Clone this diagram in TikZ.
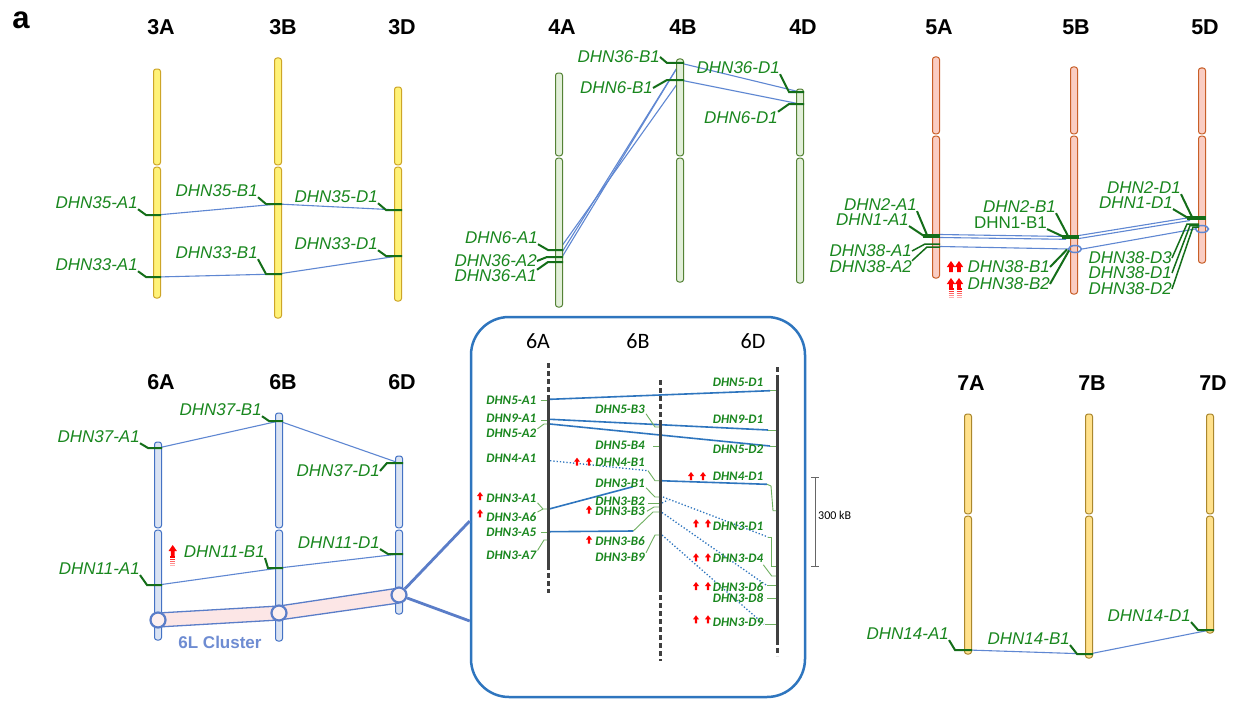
\documentclass[tikz,border=0pt]{standalone}
\usepackage{fontspec}
\setmainfont{Liberation Sans}
\newfontfamily\calfont{Carlito}
\usetikzlibrary{shapes.geometric}
\definecolor{labgreen}{RGB}{25,135,30}
\definecolor{mkgreen}{RGB}{20,110,25}
\definecolor{thingreen}{RGB}{110,175,95}
\definecolor{linkblue}{RGB}{95,135,210}
\definecolor{insetblue}{RGB}{46,117,190}
\definecolor{chrgrey}{RGB}{64,64,64}
\definecolor{clusterblue}{RGB}{90,125,200}
\definecolor{bandpink}{RGB}{252,230,230}
\definecolor{ftxt}{RGB}{110,140,210}
\definecolor{f3}{RGB}{255,242,120}\definecolor{d3}{RGB}{205,165,40}
\definecolor{f4}{RGB}{226,239,217}\definecolor{d4}{RGB}{84,130,53}
\definecolor{f5}{RGB}{250,205,195}\definecolor{d5}{RGB}{200,95,40}
\definecolor{f6}{RGB}{218,227,243}\definecolor{d6}{RGB}{68,114,196}
\definecolor{f7}{RGB}{255,225,140}\definecolor{d7}{RGB}{170,135,45}
\newcommand\chrom[5]{%
  \draw[#5,rounded corners=2.5pt] (#1-3.5,#2) rectangle (#1+3.5,#3-1.2);
  \draw[#5,rounded corners=2.5pt] (#1-3.5,#3+1.2) rectangle (#1+3.5,#4);}
\newcommand\bigup[2]{%
  \fill[red] (#1,#2) -- (#1+4.2,#2+6) -- (#1+1.8,#2+6) -- (#1+1.8,#2+11) -- (#1-1.8,#2+11) -- (#1-1.8,#2+6) -- (#1-4.2,#2+6) -- cycle;}
\newcommand\tailstripes[2]{%
  \foreach \k/\o in {0/1,1/0.8,2/0.6,3/0.45,4/0.3}{\draw[red,opacity=\o,line width=1.2pt] (#1-2.5,#2+2.2*\k) -- (#1+2.5,#2+2.2*\k);}}
\newcommand\smallup[2]{%
  \fill[red] (#1,#2-4) -- (#1+3,#2) -- (#1+1.2,#2) -- (#1+1.2,#2+4) -- (#1-1.2,#2+4) -- (#1-1.2,#2) -- (#1-3,#2) -- cycle;}
\begin{document}
\begin{tikzpicture}[x=1pt,y=-1pt,
  lab/.style={font=\fontsize{17}{19}\selectfont\itshape, text=labgreen, inner sep=0pt, anchor=east},
  ilab/.style={font=\calfont\fontsize{13}{14}\selectfont\bfseries\itshape, text=labgreen, inner sep=0pt, anchor=east},
  hdr/.style={font=\fontsize{21.5}{24}\selectfont\bfseries, inner sep=0pt},
  ihdr/.style={font=\calfont\fontsize{22}{24}\selectfont, inner sep=0pt},
  lead/.style={draw=mkgreen, line width=2pt},
  thinlead/.style={draw=mkgreen, line width=1.5pt},
  bar/.style={draw=mkgreen, line width=4pt},
  ilead/.style={draw=thingreen, line width=0.9pt},
  link/.style={draw=linkblue, line width=1.1pt},
  ilink/.style={draw=insetblue, line width=1.6pt},
  idot/.style={draw=insetblue, line width=1.3pt, dotted},
  ichr/.style={draw=chrgrey, line width=3pt},
  idash/.style={draw=chrgrey, line width=3pt, dash pattern=on 5pt off 3pt},
  c3/.style={draw=d3, fill=f3, line width=1pt},
  c4/.style={draw=d4, fill=f4, line width=1pt},
  c5/.style={draw=d5, fill=f5, line width=1pt},
  c6/.style={draw=d6, fill=f6, line width=1pt},
  c7/.style={draw=d7, fill=f7, line width=1pt},
  ell/.style={ellipse, draw=linkblue, line width=1.5pt, minimum width=13pt, minimum height=7pt, inner sep=0pt},
  circ/.style={circle, draw=clusterblue, line width=2.2pt, fill=bandpink!60!white, minimum size=15pt, inner sep=0pt},
  zoomline/.style={draw=clusterblue, line width=2.8pt}]
\useasboundingbox (0,0) rectangle (1236,701);
\fill[white] (0,0) rectangle (1236,701);
\node[font=\fontsize{31}{33}\selectfont\bfseries, inner sep=0pt] (pa) at (21,20) {a};

% ================= group 3 =================
\node[hdr] (h3A) at (161,27) {3A};
\node[hdr] (h3B) at (283,27) {3B};
\node[hdr] (h3D) at (402,27) {3D};
\coordinate (m35A) at (157,215); \coordinate (m35B) at (278,204); \coordinate (m35D) at (398,210);
\coordinate (m33A) at (157,277); \coordinate (m33B) at (278,274); \coordinate (m33D) at (398,256);
\draw[link] (m35A) -- (m35B) -- (m35D);
\draw[link] (m33A) -- (m33B) -- (m33D);
\chrom{157}{69}{166}{298}{c3}
\chrom{278}{58}{166}{318}{c3}
\chrom{398}{87}{166}{301}{c3}
\node[lab] (L35A) at (138,203) {DHN35-A1};
\draw[lead] (L35A.south east) -- (146,215) -- (161,215);
\node[lab] (L35B) at (258,191) {DHN35-B1};
\draw[lead] (L35B.south east) -- (266,204) -- (282,204);
\node[lab] (L35D) at (378,197) {DHN35-D1};
\draw[lead] (L35D.south east) -- (386,210) -- (402,210);
\node[lab] (L33A) at (138,265) {DHN33-A1};
\draw[lead] (L33A.south east) -- (146,277) -- (161,277);
\node[lab] (L33B) at (258,253) {DHN33-B1};
\draw[lead] (L33B.south east) -- (266,274) -- (282,274);
\node[lab] (L33D) at (378,244) {DHN33-D1};
\draw[lead] (L33D.south east) -- (386,256) -- (402,256);

% ================= group 4 =================
\node[hdr] (h4A) at (562,27) {4A};
\node[hdr] (h4B) at (683,27) {4B};
\node[hdr] (h4D) at (803,27) {4D};
\coordinate (m6A) at (559,250); \coordinate (m36A2) at (559,257); \coordinate (m36A1) at (559,262);
\coordinate (m36B) at (680,63); \coordinate (m6B) at (680,80);
\coordinate (m36D) at (800,92); \coordinate (m6D) at (800,104);
\draw[link] (m6A) -- (m6B) -- (m6D);
\draw[link] (m36A2) -- (m36B) -- (m36D);
\draw[link] (m36A1) -- (m36B);
\chrom{559}{73}{157}{307}{c4}
\chrom{680}{59}{157}{282}{c4}
\chrom{800}{89}{157}{283}{c4}
\node[lab] (L36B) at (660,57) {DHN36-B1};
\draw[lead] (L36B.east) -- (667,63) -- (684,63);
\node[lab] (L6B) at (653,88) {DHN6-B1};
\draw[lead] (L6B.east) -- (667,80) -- (684,80);
\node[lab] (L36D) at (780,68) {DHN36-D1};
\draw[lead] (L36D.south east) -- (789,92) -- (804,92);
\node[lab] (L6D) at (778,118) {DHN6-D1};
\draw[lead] (L6D.north east) -- (789,104) -- (804,104);
\node[lab] (L6A) at (538,238) {DHN6-A1};
\draw[lead] (L6A.south east) -- (548,250) -- (563,250);
\node[lab] (L36A2) at (537,261) {DHN36-A2};
\draw[lead] (L36A2.east) -- (547,257) -- (563,257);
\node[lab] (L36A1) at (537,276) {DHN36-A1};
\draw[lead] (L36A1.north east) -- (548,262) -- (563,262);

% ================= group 5 =================
\node[hdr] (h5A) at (939,27) {5A};
\node[hdr] (h5B) at (1076,27) {5B};
\node[hdr] (h5D) at (1205,27) {5D};
\coordinate (a2) at (940,234.5); \coordinate (a1) at (940,237.5); \coordinate (a38) at (940,246.5);
\coordinate (b2l) at (1066,236.5); \coordinate (b1l) at (1066,239.3);
\coordinate (b2r) at (1079,235.5); \coordinate (b1r) at (1079,238.5);
\coordinate (d2) at (1190,217.5); \coordinate (d1) at (1190,220.5);
\draw[link] (a2) -- (b2l); \draw[link] (a1) -- (b1l);
\draw[link] (b2r) -- (d2); \draw[link] (b1r) -- (d1);
\chrom{936}{57}{135}{278}{c5}
\chrom{1074}{67}{135}{294}{c5}
\chrom{1202}{68}{135}{263}{c5}
\node[ell] (E38B) at (1075,249) {};
\node[ell] (E38D) at (1202,229) {};
\draw[link] (a38) -- (E38B.west);
\draw[link] (E38B.east) -- (E38D.west);
\node[lab] (L2A) at (917,205) {DHN2-A1};
\node[lab] (L1A) at (909,220) {DHN1-A1};
\draw[lead] (L2A.south east) -- (927,235);
\draw[lead] (L1A.south east) -- (924,236);
\draw[bar] (923,236) -- (940,236);
\node[lab] (L38A1) at (912,251) {DHN38-A1};
\node[lab] (L38A2) at (912,267) {DHN38-A2};
\draw[thinlead] (L38A1.east) -- (925,244) -- (940,244);
\draw[thinlead] (L38A2.north east) -- (927,247) -- (940,247);
\node[lab] (L2B) at (1056,207) {DHN2-B1};
\node[lab,font=\fontsize{17}{19}\selectfont\upshape] (L1B) at (1047,223) {DHN1-B1};
\draw[lead] (L2B.south east) -- (1068,236);
\draw[lead] (L1B.south east) -- (1064,237);
\draw[bar] (1062,237) -- (1079,237);
\node[lab] (L38B1) at (1050,267) {DHN38-B1};
\node[lab] (L38B2) at (1050,284) {DHN38-B2};
\draw[lead] (L38B1.east) -- (1067,249.5);
\draw[lead] (L38B2.east) -- (1069,250.5);
\node[lab] (L2D) at (1181,188) {DHN2-D1};
\node[lab] (L1D) at (1173,203) {DHN1-D1};
\draw[lead] (L2D.south east) -- (1192,217);
\draw[lead] (L1D.south east) -- (1188,218);
\draw[bar] (1187,218) -- (1206,218);
\node[lab] (L38D3) at (1172,258) {DHN38-D3};
\node[lab] (L38D1) at (1172,273) {DHN38-D1};
\node[lab] (L38D2) at (1172,289) {DHN38-D2};
\draw[thinlead] (L38D3.east) -- (1187,224) -- (1199,224);
\draw[thinlead] (L38D1.east) -- (1190,225.5) -- (1199,225.5);
\draw[thinlead] (L38D2.east) -- (1193,227) -- (1199,227);
\bigup{951}{261}\bigup{959}{261}
\bigup{951}{278}\bigup{959}{278}
\tailstripes{951}{289}\tailstripes{959}{289}

% ================= group 6 =================
\node[hdr] (h6A) at (161,382) {6A};
\node[hdr] (h6B) at (283,382) {6B};
\node[hdr] (h6D) at (402,382) {6D};
\coordinate (m37A) at (158,448); \coordinate (m37B) at (279,421); \coordinate (m37D) at (399,463);
\coordinate (m11A) at (158,585); \coordinate (m11B) at (279,568); \coordinate (m11D) at (399,554);
\draw[link] (m37A) -- (m37B) -- (m37D);
\draw[link] (m11A) -- (m11B) -- (m11D);
\chrom{158}{442}{529}{640}{c6}
\chrom{279}{413}{529}{641}{c6}
\chrom{399}{456}{529}{614}{c6}
\node[lab] (L37A) at (140,437) {DHN37-A1};
\draw[lead] (L37A.south east) -- (148,448) -- (162,448);
\node[lab] (L37B) at (262,410) {DHN37-B1};
\draw[lead] (L37B.south east) -- (269,421) -- (283,421);
\node[lab] (L37D) at (380,471) {DHN37-D1};
\draw[lead] (L37D.east) -- (387,463) -- (403,463);
\node[lab] (L11A) at (140,569) {DHN11-A1};
\draw[lead] (L11A.south east) -- (147,585) -- (162,585);
\node[lab] (L11B) at (265,552) {DHN11-B1};
\draw[lead] (L11B.south east) -- (268,568) -- (283,568);
\node[lab] (L11D) at (380,543) {DHN11-D1};
\draw[lead] (L11D.south east) -- (388,554) -- (403,554);
\bigup{172.7}{545}
\tailstripes{172.7}{557}
% 6L cluster band
\fill[bandpink] (158,613) -- (279,606) -- (399,588) -- (399,603) -- (279,620) -- (158,627) -- cycle;
\draw[clusterblue, line width=1.3pt] (158,613) -- (279,606) -- (399,588);
\draw[clusterblue, line width=1.3pt] (158,627) -- (279,620) -- (399,603);
\node[circ] (C6A) at (158,620) {};
\node[circ] (C6B) at (279,613) {};
\node[circ] (C6D) at (399,595) {};
\node[font=\fontsize{17}{19}\selectfont\bfseries, text=ftxt, inner sep=0pt] (cl) at (220,642) {6L Cluster};

% ================= inset =================
\node[draw=insetblue, line width=2.5pt, rounded corners=38pt, minimum width=334pt, minimum height=380pt, inner sep=0pt] (inset) at (638,507) {};
\draw[zoomline] (C6D) -- ([yshift=-14pt]inset.west);
\draw[zoomline] (C6D) -- ([yshift=-114pt]inset.west);
\node[ihdr] (i6A) at (538,341) {6A};
\node[ihdr] (i6B) at (638,341) {6B};
\node[ihdr] (i6D) at (753,341) {6D};
% inset links
\draw[ilink] (550,399.3) -- (770,390.7);
\draw[ilink] (550,419.3) -- (768,430);
\draw[ilink] (550,424) -- (770,446);
\draw[ilink] (660,480.7) -- (767,484.3);
\draw[ilink] (548,509.3) -- (633,486.7);
\draw[ilink] (550,531.7) -- (633.3,531);
\draw[idot] (550,460.7) -- (648,470.7);
\draw[idot] (663,497) -- (768,537);
\draw[idot] (662,503) -- (668,500);
\draw[idot] (662,512.5) -- (767,585.7);
\draw[idot] (662,535) -- (764,624.3);
% inset chromosomes
\draw[idash] (548,363) -- (548,397);
\draw[ichr] (548,397) -- (548,565);
\draw[idash] (548,565) -- (548,593);
\draw[idash] (660,380) -- (660,423);
\draw[ichr] (660,423) -- (660,587);
\draw[idash] (660,587) -- (660,661);
\draw[idash] (777,367) -- (777,378);
\draw[ichr] (777,378) -- (777,640);
\draw[idash] (777,640) -- (777,656);
% inset labels, left
\node[ilab] (I5A1) at (536.5,400) {DHN5-A1};
\draw[ilead] ([xshift=4pt]I5A1.east) -- (547,400);
\node[ilab] (I9A1) at (536.5,418.3) {DHN9-A1};
\draw[ilead] (541,420) -- (547,420);
\node[ilab] (I5A2) at (536.5,433.3) {DHN5-A2};
\draw[ilead] ([xshift=1pt]I5A2.north east) -- (544,424) -- (547,424);
\node[ilab] (I4A1) at (536.5,458.3) {DHN4-A1};
\node[ilab] (I3A1) at (536.5,498.3) {DHN3-A1};
\node[ilab] (I3A6) at (536.5,516.7) {DHN3-A6};
\draw[ilead] ([xshift=1pt]I3A1.south east) -- (543,509) -- (547,509);
\draw[ilead] ([xshift=1pt]I3A6.north east) -- (543,509);
\node[ilab] (I3A5) at (536.5,532.3) {DHN3-A5};
\draw[ilead] (541,532.7) -- (547,532.7);
\node[ilab] (I3A7) at (536.5,555) {DHN3-A7};
\draw[ilead] ([xshift=1pt]I3A7.north east) -- (544,540) -- (547,540);
% middle
\node[ilab] (I5B3) at (645,409.3) {DHN5-B3};
\draw[ilead] ([xshift=1pt]I5B3.south east) -- (655,427) -- (659,427);
\node[ilab] (I5B4) at (645,445) {DHN5-B4};
\draw[ilead] (653,446) -- (659,446);
\node[ilab] (I4B1) at (645,462.7) {DHN4-B1};
\draw[ilead] (648,470.7) -- (655,480.7) -- (659,480.7);
\node[ilab] (I3B1) at (645,483.3) {DHN3-B1};
\draw[ilead] ([xshift=1pt]I3B1.south east) -- (655,497) -- (659,497);
\node[ilab] (I3B2) at (645,501.2) {DHN3-B2};
\draw[ilead] (648,503) -- (659,503);
\node[ilab] (I3B3) at (645,511.2) {DHN3-B3};
\draw[ilead] ([xshift=2pt]I3B3.east) -- (654,507) -- (659,507);
\draw[ilead] (633.3,531) -- (653,512) -- (659,512);
\node[ilab] (I3B6) at (645,540.7) {DHN3-B6};
\node[ilab] (I3B9) at (645,557.3) {DHN3-B9};
\draw[ilead] ([xshift=1pt]I3B9.north east) -- (655,535) -- (659,535);
% right
\node[ilab] (I5D1) at (763.3,382.7) {DHN5-D1};
\draw[ilead] (770,390.7) -- (776,390.7);
\node[ilab] (I9D1) at (763.3,419.3) {DHN9-D1};
\draw[ilead] (768,430) -- (776,430);
\node[ilab] (I5D2) at (763.3,449.3) {DHN5-D2};
\draw[ilead] (770,446) -- (776,446);
\node[ilab] (I4D1) at (763.3,476.7) {DHN4-D1};
\draw[ilead] (767,484.3) -- (771,486) -- (773,510.7) -- (776,510.7);
\node[ilab] (I3D1) at (763.3,526.7) {DHN3-D1};
\draw[ilead] (768,537) -- (771,537) -- (771,566.7) -- (776,566.7);
\node[ilab] (I3D4) at (763.3,558.3) {DHN3-D4};
\draw[ilead] ([yshift=-2pt]I3D4.south east) -- (771.7,576) -- (776,576);
\node[ilab] (I3D6) at (763.3,586.7) {DHN3-D6};
\draw[ilead] (767,585.7) -- (776,585.7);
\node[ilab] (I3D8) at (763.3,598.3) {DHN3-D8};
\draw[ilead] (767,598.3) -- (776,598.3);
\node[ilab] (I3D9) at (763.3,622.7) {DHN3-D9};
\draw[ilead] (765,624.3) -- (776,624.3);
% small red arrows
\smallup{480}{496}\smallup{480}{513.3}
\smallup{577}{461.7}\smallup{589}{461.7}
\smallup{589}{509.5}\smallup{589}{539.5}
\smallup{691}{476}\smallup{703}{476}
\smallup{696}{523.3}\smallup{708}{523.3}
\smallup{696}{557.3}\smallup{708}{557.3}
\smallup{696}{586}\smallup{708}{586}
\smallup{696}{619.3}\smallup{708}{619.3}
% scale bar
\coordinate (sbt) at (815,477); \coordinate (sbb) at (815,566);
\draw[gray!80!black, line width=0.8pt] (sbt) -- (sbb);
\draw[gray!80!black, line width=0.8pt] (811,477) -- (819,477);
\draw[gray!80!black, line width=0.8pt] (811,566) -- (819,566);
\node[font=\calfont\fontsize{12}{13}\selectfont, anchor=west, inner sep=0pt] (sbl) at (818,515) {300 kB};

% ================= group 7 =================
\node[hdr] (h7A) at (971,383) {7A};
\node[hdr] (h7B) at (1092,383) {7B};
\node[hdr] (h7D) at (1213,383) {7D};
\coordinate (m14A) at (968,650); \coordinate (m14B) at (1089,654); \coordinate (m14D) at (1210,630);
\draw[link] (m14A) -- (m14B) -- (m14D);
\chrom{968}{414}{515}{654}{c7}
\chrom{1089}{414}{515}{658}{c7}
\chrom{1210}{414}{515}{633}{c7}
\node[lab] (L14A) at (949,634) {DHN14-A1};
\draw[lead] (L14A.south east) -- (955,650) -- (972,650);
\node[lab] (L14B) at (1070,639) {DHN14-B1};
\draw[lead] (L14B.south east) -- (1077,654) -- (1093,654);
\node[lab] (L14D) at (1191,616) {DHN14-D1};
\draw[lead] (L14D.south east) -- (1198,630) -- (1214,630);
\end{tikzpicture}
\end{document}
